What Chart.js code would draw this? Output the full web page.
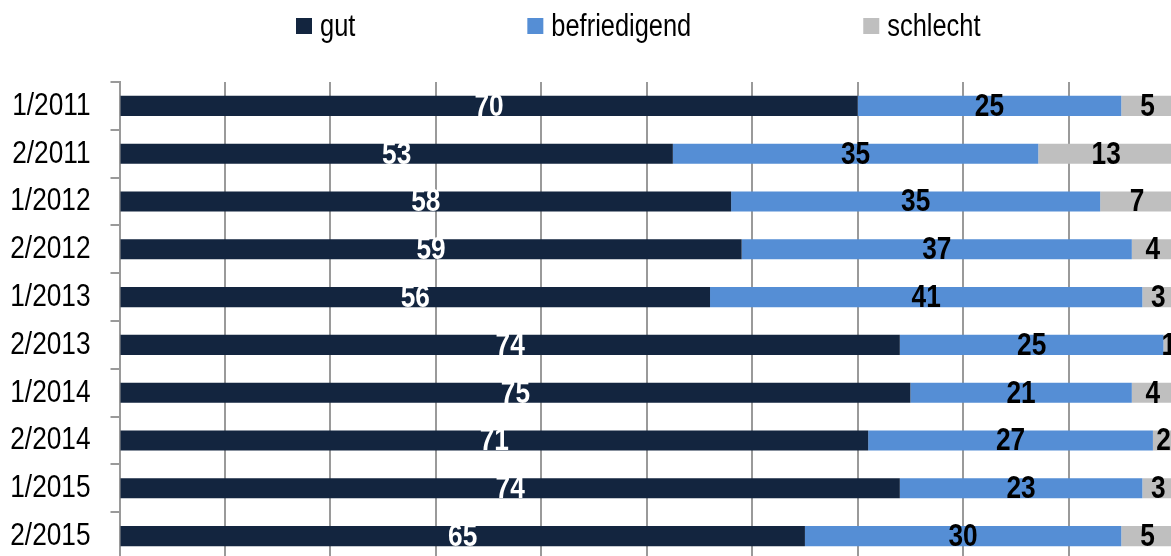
<!DOCTYPE html>
<html>
<head>
<meta charset="utf-8">
<script src="https://cdn.jsdelivr.net/npm/chart.js@4/dist/chart.umd.min.js"></script>
<style>
  html, body { margin: 0; padding: 0; overflow: hidden; background: #fff; }
  #wrap { position: relative; width: 1174px; height: 560px; }
</style>
</head>
<body>
<div id="wrap"><canvas id="c"></canvas></div>
<script>
const categories = ['1/2011','2/2011','1/2012','2/2012','1/2013','2/2013','1/2014','2/2014','1/2015','2/2015'];
const seriesNames = ['gut','befriedigend','schlecht'];
const gut =          [70, 53, 58, 59, 56, 74, 75, 71, 74, 65];
const befriedigend = [25, 35, 35, 37, 41, 25, 21, 27, 23, 30];
const schlecht =     [5, 13, 7, 4, 3, 1, 4, 2, 3, 5];

const colors = ['#13253f', '#558ed5', '#bfbfbf'];
const labelColors = ['#ffffff', '#000000', '#000000'];
const FONT = "'Liberation Sans', Arial, sans-serif";
const NARROW = 0.82; // horizontal squeeze to imitate a narrow typeface

const canvas = document.getElementById('c');
const ctx2d = canvas.getContext('2d');
const origFillText = ctx2d.fillText.bind(ctx2d);
ctx2d.fillText = function (text, x, y) {
  this.save();
  this.translate(x, y);
  this.scale(NARROW, 1);
  origFillText(text, 0, 0);
  this.restore();
};

const raw = [gut, befriedigend, schlecht];
const totals = categories.map((_, j) => raw.reduce((s, arr) => s + arr[j], 0));
const datasets = raw.map((arr, i) => ({
  label: seriesNames[i],
  data: arr.map((v, j) => v / totals[j] * 100),
  rawValues: arr,
  backgroundColor: colors[i],
  labelColor: labelColors[i],
  borderWidth: 0,
  barPercentage: 0.42,
  categoryPercentage: 1.0
}));

const valueLabels = {
  id: 'valueLabels',
  afterDatasetsDraw(chart) {
    const ctx = chart.ctx;
    ctx.save();
    ctx.font = "bold 32px " + FONT;
    ctx.textAlign = 'center';
    ctx.textBaseline = 'middle';
    chart.data.datasets.forEach((ds, i) => {
      const meta = chart.getDatasetMeta(i);
      meta.data.forEach((bar, j) => {
        const p = bar.getProps(['x', 'y', 'base'], true);
        ctx.fillStyle = ds.labelColor;
        ctx.fillText(String(ds.rawValues[j]), (p.x + p.base) / 2, p.y + 1);
      });
    });
    ctx.restore();
  }
};

const topLegend = {
  id: 'topLegend',
  afterDraw(chart) {
    const ctx = chart.ctx;
    ctx.save();
    ctx.font = "31px " + FONT;
    ctx.textBaseline = 'middle';
    ctx.textAlign = 'left';
    let x = 296;
    chart.data.datasets.forEach((ds) => {
      ctx.fillStyle = ds.backgroundColor;
      ctx.fillRect(x, 18, 16, 16);
      ctx.fillStyle = '#000';
      ctx.fillText(ds.label, x + 24, 27);
      x += 24 + ctx.measureText(ds.label).width * NARROW + 172;
    });
    ctx.restore();
  }
};

new Chart(canvas, {
  type: 'bar',
  data: { labels: categories, datasets },
  options: {
    indexAxis: 'y',
    responsive: true,
    maintainAspectRatio: false,
    animation: false,
    layout: { padding: { top: 82, left: 0, right: 0, bottom: 0 } },
    plugins: {
      legend: { display: false },
      tooltip: { enabled: false }
    },
    scales: {
      x: {
        stacked: true,
        min: 0, max: 100,
        ticks: { display: false, stepSize: 10 },
        grid: { color: '#9a9a9a', lineWidth: 2, drawTicks: false },
        border: { display: false },
        afterFit(s) { s.height = 0; s.paddingLeft = 0; s.paddingRight = 0; }
      },
      y: {
        stacked: true,
        ticks: { color: '#000', font: { family: FONT, size: 32 }, padding: 20 },
        grid: { offset: true, drawOnChartArea: false, color: '#9a9a9a', lineWidth: 2, tickLength: 9 },
        border: { color: '#9a9a9a', width: 2 },
        afterFit(s) { s.width = 119.5; s.paddingTop = 0; s.paddingBottom = 0; }
      }
    }
  },
  plugins: [valueLabels, topLegend]
});
</script>
</body>
</html>
